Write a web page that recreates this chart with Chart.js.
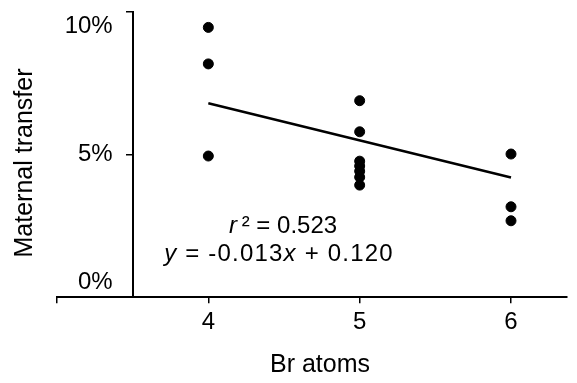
<!DOCTYPE html>
<html>
<head>
<meta charset="utf-8">
<script src="https://cdn.jsdelivr.net/npm/chart.js@4.4.1/dist/chart.umd.min.js"></script>
<style>
  html, body { margin: 0; padding: 0; background: #fff; }
  #wrap { width: 577px; height: 383px; }
</style>
</head>
<body>
<div id="wrap"><canvas id="chart" width="577" height="383"></canvas></div>
<script>
// measurements: bromine atoms per congener vs. maternal transfer fraction
const brAtoms = [4, 4, 4, 5, 5, 5, 5, 5, 5, 5, 6, 6, 6];
const transfer = [0.0946, 0.0818, 0.0495, 0.0689, 0.0580, 0.0477, 0.0460, 0.0442, 0.0421, 0.0393, 0.0502, 0.0317, 0.0268];

// tick values for both axes
const xTickValues = [3, 4, 5, 6];
const yTickValues = [0, 0.05, 0.10];

// regression line as printed on the plot
const fitSlope = -0.013;
const fitIntercept = 0.120;
const rSquared = 0.523;
const fitRange = [4, 6];

const FONT = "'Liberation Sans', Arial, Helvetica, sans-serif";
Chart.defaults.font.family = FONT;
Chart.defaults.color = '#000';

var points = brAtoms.map((b, i) => ({ x: b, y: transfer[i] }));
var fitLine = fitRange.map(x => ({ x: x, y: fitSlope * x + fitIntercept }));

// axis titles and the equation are drawn by hand so they sit where the old figure had them
const labelsPlugin = {
    id: 'labels',
    afterDraw(chart) {
        const ctx = chart.ctx;
        ctx.save();
        ctx.fillStyle = '#000';
        ctx.textBaseline = 'middle';

        // y title
        ctx.save();
        ctx.translate(25, 163);
        ctx.rotate(-Math.PI / 2);
        ctx.font = '25px ' + FONT;
        ctx.textAlign = 'center';
        ctx.fillText('Maternal transfer', 0, 0);
        ctx.restore();

        // x title
        ctx.font = '25px ' + FONT;
        ctx.textAlign = 'center';
        ctx.fillText('Br atoms', 320, 365);

        // equation lines, mixed italic / upright pieces
        ctx.textAlign = 'left';
        drawPieces(ctx, 283, 226, 0, [
            ['italic', 'r'], ['normal', '\u2009\u00b2 = ' + rSquared.toFixed(3)]
        ]);
        var sign = fitIntercept >= 0 ? ' + ' : ' - ';
        drawPieces(ctx, 279, 254, 1.2, [
            ['italic', 'y'], ['normal', ' = ' + fitSlope.toFixed(3)],
            ['italic', 'x'], ['normal', sign + Math.abs(fitIntercept).toFixed(3)]
        ]);
        ctx.restore();
    }
};

function drawPieces(ctx, cx, cy, spacing, pieces) {
    ctx.letterSpacing = spacing + 'px';
    var total = 0;
    pieces.forEach(p => {
        ctx.font = p[0] + ' 24px ' + FONT;
        total += ctx.measureText(p[1]).width;
    });
    var x = cx - total / 2;
    pieces.forEach(p => {
        ctx.font = p[0] + ' 24px ' + FONT;
        ctx.fillText(p[1], x, cy);
        x += ctx.measureText(p[1]).width;
    });
    ctx.letterSpacing = '0px';
}

new Chart(document.getElementById('chart'), {
    type: 'scatter',
    data: {
        datasets: [{
            data: points,
            backgroundColor: '#000',
            borderColor: '#000',
            pointRadius: 5,
            pointHoverRadius: 5
        }, {
            data: fitLine,
            showLine: true,
            borderColor: '#000',
            borderWidth: 2.5,
            pointRadius: 0
        }]
    },
    options: {
        responsive: false,
        animation: false,
        events: [],
        layout: { autoPadding: false, padding: { top: 12, left: 57, right: 10, bottom: 41 } },
        plugins: {
            legend: { display: false },
            tooltip: { enabled: false }
        },
        scales: {
            x: {
                type: 'linear',
                position: 'bottom',
                min: 3,
                max: 6.37,
                afterBuildTicks: (scale) => { scale.ticks = xTickValues.map(v => ({ value: v })); },
                ticks: {
                    font: { size: 24 },
                    padding: 5,
                    maxRotation: 0,
                    callback: (v) => (v === 3 ? '' : v)
                },
                grid: { drawOnChartArea: false, tickLength: 6, color: '#000', lineWidth: 1.5 },
                border: { color: '#000', width: 2 }
            },
            y: {
                type: 'linear',
                position: { x: 3.5 },
                min: 0,
                max: 0.10,
                afterBuildTicks: (scale) => { scale.ticks = yTickValues.map(v => ({ value: v })); },
                // end labels sit inside the axis, so they need no extra room
                afterFit: (scale) => { scale.paddingTop = 0; scale.paddingBottom = 0; },
                ticks: {
                    font: { size: 24, lineHeight: 1.22 },
                    // trailing spaces keep the labels clear of the axis line
                    callback: (v) => {
                        var t = Math.round(v * 100) + '%   ';
                        if (v >= 0.1) return ['', t];
                        if (v <= 0) return [t, ''];
                        return t;
                    }
                },
                grid: { drawOnChartArea: false, tickLength: 6, color: '#000', lineWidth: 1.5 },
                border: { color: '#000', width: 2 }
            }
        }
    },
    plugins: [labelsPlugin]
});
</script>
</body>
</html>
